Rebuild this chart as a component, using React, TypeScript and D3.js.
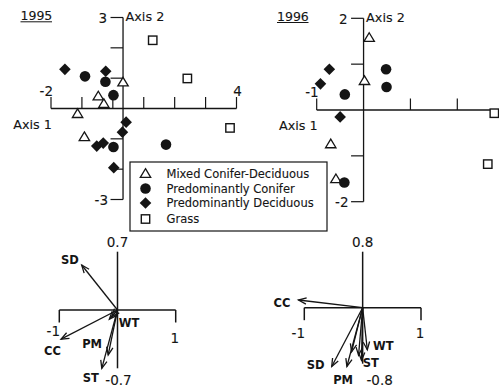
import React from 'react';
import * as d3 from 'd3';

// ---------- DATA ----------
const groups = ['Mixed Conifer-Deciduous', 'Predominantly Conifer', 'Predominantly Deciduous', 'Grass'];
const groupSymbols = ['triangle', 'circle', 'diamond', 'square'];

// 1995 site scores (Axis 1, Axis 2)
const mixed95X = [0.33, -0.47, -0.29, -1.14, -0.92];
const mixed95Y = [0.87, 0.41, 0.16, -0.17, -0.93];
const conifer95X = [-0.9, -0.24, 0.02, 0.02, 1.72];
const conifer95Y = [1.06, 0.88, 0.44, -1.27, -1.19];
const decid95X = [-1.55, -0.23, 0.43, 0.31, -0.52, -0.31, 0.03];
const decid95Y = [1.29, 1.23, -0.45, -0.78, -1.24, -1.14, -1.95];
const grass95X = [1.29, 2.41, 3.79];
const grass95Y = [2.25, 0.99, -0.64];

// 1996 site scores
const mixed96X = [0.12, 0.02, -0.7, -0.59];
const mixed96Y = [1.58, 0.64, -0.74, -1.5];
const conifer96X = [0.48, 0.49, -0.4, -0.41];
const conifer96Y = [0.89, 0.5, 0.34, -1.58];
const decid96X = [-0.73, -0.92, -0.5];
const decid96Y = [0.89, 0.57, -0.15];
const grass96X = [2.79, 2.65];
const grass96Y = [-0.07, -1.18];

// axis ticks
const xTicks95 = [-2, -1, 0, 1, 2, 3, 4];
const yTicks95 = [3, 2, 1, -1, -2, -3];
const xTicks96 = [-1, 1, 2];
const yTicks96 = [2, 1, -1, -2];

// biplot loadings
const vars95 = ['SD', 'CC', 'PM', 'ST', 'WT', ''];
const load95X = [-0.615, -0.97, -0.16, -0.27, -0.14, -0.1];
const load95Y = [0.54, -0.35, -0.54, -0.7, -0.11, -0.08];
const vars96 = ['CC', 'SD', 'PM', 'ST', 'WT', '', ''];
const load96X = [-1.1, -0.53, -0.27, -0.02, 0.08, -0.19, -0.07];
const load96Y = [0.11, -0.84, -0.84, -0.75, -0.6, -0.63, -0.68];

// ---------- STYLE / LAYOUT ----------
const FONT = "'DejaVu Sans', 'Liberation Sans', Arial, sans-serif";
const INK = '#151515';
const TXT = { fontFamily: FONT, fill: INK, stroke: INK, strokeWidth: 0.12 } as const;

const label95Offsets: Record<string, [number, number]> = {
  SD: [-20.7, -1.5], CC: [-17, 16], PM: [-26, -7], ST: [-19, 14], WT: [9.5, 8],
};
const label96Offsets: Record<string, [number, number]> = {
  CC: [-25, 6.5], SD: [-25, 2.5], PM: [-13.7, 17], ST: [1.3, 6.5], WT: [5.7, 0.5],
};

function Marker({ kind, x, y }: { kind: string; x: number; y: number }) {
  if (kind === 'circle') return <circle cx={x} cy={y} r={5.3} fill={INK} />;
  if (kind === 'diamond') {
    const r = 5.8;
    return <path d={`M${x},${y - r}L${x + r},${y}L${x},${y + r}L${x - r},${y}Z`} fill={INK} />;
  }
  if (kind === 'square') {
    const s = 4.2;
    return <rect x={x - s} y={y - s} width={2 * s} height={2 * s} fill="white" stroke={INK} strokeWidth={1.4} />;
  }
  const h = 4.8;
  return (
    <path
      d={`M${x},${y - h}L${x + 5.2},${y + h * 0.8}L${x - 5.2},${y + h * 0.8}Z`}
      fill="white"
      stroke={INK}
      strokeWidth={1.3}
      strokeLinejoin="miter"
    />
  );
}

type Series = { xs: number[]; ys: number[] };

function ScatterPanel(props: {
  title: string;
  titleX: number;
  titleY: number;
  x: d3.ScaleLinear<number, number>;
  y: d3.ScaleLinear<number, number>;
  xMin: number;
  xMax: number;
  yMin: number;
  yMax: number;
  vAxisAt: number;
  xTicks: number[];
  yTicks: number[];
  xLeftLabel: string;
  xRightLabel?: string;
  yTopLabel: string;
  yBottomLabel: string;
  series: Series[];
}) {
  const { x, y } = props;
  const ax = x(props.vAxisAt);
  const ay = y(0);
  const tickLen = 11.5;
  const titleW = props.title.length * 8;
  return (
    <g>
      <text x={props.titleX} y={props.titleY} fontSize={12.5} {...TXT}>
        {props.title}
      </text>
      <line x1={props.titleX} x2={props.titleX + titleW - 0.5} y1={props.titleY + 1.8} y2={props.titleY + 1.8} stroke={INK} strokeWidth={1} />
      {/* horizontal axis */}
      <line x1={x(props.xMin)} x2={x(props.xMax)} y1={ay} y2={ay} stroke={INK} strokeWidth={1.3} />
      {props.xTicks.map((t) => (
        <line key={'xt' + t} x1={x(t)} x2={x(t)} y1={ay} y2={ay - tickLen} stroke={INK} strokeWidth={1.2} />
      ))}
      {/* vertical axis */}
      <line x1={ax} x2={ax} y1={y(props.yMax)} y2={y(props.yMin)} stroke={INK} strokeWidth={1.3} />
      {props.yTicks.map((t) => (
        <line key={'yt' + t} x1={ax - tickLen - 1} x2={ax} y1={y(t)} y2={y(t)} stroke={INK} strokeWidth={1.2} />
      ))}
      <text x={ax - 16} y={y(props.yMax) + 5.5} textAnchor="end" fontSize={13.5} {...TXT}>
        {props.yTopLabel}
      </text>
      <text x={ax + 2.5} y={y(props.yMax) + 3.5} fontSize={12.8} {...TXT}>
        Axis 2
      </text>
      <text x={ax - 15} y={y(props.yMin) + 5} textAnchor="end" fontSize={13.5} {...TXT}>
        {props.yBottomLabel}
      </text>
      <text x={x(props.xMin) + 2} y={ay - 13} textAnchor="end" fontSize={13.5} {...TXT}>
        {props.xLeftLabel}
      </text>
      {props.xRightLabel && (
        <text x={x(props.xMax) + 1} y={ay - 13} textAnchor="middle" fontSize={13.5} {...TXT}>
          {props.xRightLabel}
        </text>
      )}
      <text x={x(props.xMin) + 1} y={ay + 20} textAnchor="end" fontSize={12.8} {...TXT}>
        Axis 1
      </text>
      {props.series.map((s, gi) =>
        s.xs.map((v, i) => <Marker key={gi + '-' + i} kind={groupSymbols[gi]} x={x(v)} y={y(s.ys[i])} />)
      )}
    </g>
  );
}

function Biplot(props: {
  x: d3.ScaleLinear<number, number>;
  y: d3.ScaleLinear<number, number>;
  yLim: number;
  topLabel: string;
  bottomLabel: string;
  bottomDx: number;
  bottomDy: number;
  names: string[];
  lx: number[];
  ly: number[];
  offsets: Record<string, [number, number]>;
  endLabelDy: [number, number];
}) {
  const { x, y } = props;
  const ox = x(0);
  const oy = y(0);
  const head = 8.5;
  const ang = (22 * Math.PI) / 180;
  return (
    <g>
      <line x1={x(-1)} x2={x(1)} y1={oy} y2={oy} stroke={INK} strokeWidth={1.6} />
      <line x1={x(-1)} x2={x(-1)} y1={oy} y2={oy + 12.5} stroke={INK} strokeWidth={1.5} />
      <line x1={x(1)} x2={x(1)} y1={oy} y2={oy + 12.5} stroke={INK} strokeWidth={1.5} />
      <line x1={ox} x2={ox} y1={y(props.yLim)} y2={y(-props.yLim)} stroke={INK} strokeWidth={1.5} />
      <text x={ox} y={y(props.yLim) - 5} textAnchor="middle" fontSize={13.5} {...TXT}>
        {props.topLabel}
      </text>
      <text x={ox + props.bottomDx} y={y(-props.yLim) + props.bottomDy} textAnchor="middle" fontSize={13.5} {...TXT}>
        {props.bottomLabel}
      </text>
      <text x={x(-1) - 6} y={oy + props.endLabelDy[0]} textAnchor="middle" fontSize={13.5} {...TXT}>
        -1
      </text>
      <text x={x(1) - 1} y={oy + props.endLabelDy[1]} textAnchor="middle" fontSize={13.5} {...TXT}>
        1
      </text>
      {props.names.map((n, i) => {
        const tx = x(props.lx[i]);
        const ty = y(props.ly[i]);
        const a = Math.atan2(oy - ty, ox - tx);
        const b1 = [tx + head * Math.cos(a + ang), ty + head * Math.sin(a + ang)];
        const b2 = [tx + head * Math.cos(a - ang), ty + head * Math.sin(a - ang)];
        const off = props.offsets[n];
        return (
          <g key={'v' + i}>
            <line x1={ox} y1={oy} x2={tx} y2={ty} stroke={INK} strokeWidth={1.3} />
            <path d={`M${b1[0]},${b1[1]}L${tx},${ty}L${b2[0]},${b2[1]}`} fill="none" stroke={INK} strokeWidth={1.3} />
            {n && off && (
              <text x={tx + off[0]} y={ty + off[1]} fontFamily={FONT} fontSize={11.5} fontWeight="bold" fill={INK}>
                {n}
              </text>
            )}
          </g>
        );
      })}
    </g>
  );
}

export default function App() {
  const x95 = d3.scaleLinear().domain([-2, 4]).range([51, 236.5]);
  const y95 = d3.scaleLinear().domain([-3, 3]).range([199.5, 17.5]);
  const x96 = d3.scaleLinear().domain([-1, 2]).range([316.7, 457.3]);
  const y96 = d3.scaleLinear().domain([-2, 2]).range([201.7, 18.3]);

  const bx95 = d3.scaleLinear().domain([-1, 1]).range([59.3, 175.7]);
  const by95 = d3.scaleLinear().domain([-0.7, 0.7]).range([368.3, 251.7]);
  const bx96 = d3.scaleLinear().domain([-1, 1]).range([304.3, 421]);
  const by96 = d3.scaleLinear().domain([-0.8, 0.8]).range([363.7, 251.7]);

  const series95: Series[] = [
    { xs: mixed95X, ys: mixed95Y },
    { xs: conifer95X, ys: conifer95Y },
    { xs: decid95X, ys: decid95Y },
    { xs: grass95X, ys: grass95Y },
  ];
  const series96: Series[] = [
    { xs: mixed96X, ys: mixed96Y },
    { xs: conifer96X, ys: conifer96Y },
    { xs: decid96X, ys: decid96Y },
    { xs: grass96X, ys: grass96Y },
  ];

  const legendX = 130;
  const legendY = 162;
  const rowY = [173.5, 188.5, 203, 219];

  return (
    <svg width={499} height={391} style={{ position: 'absolute', left: 0, top: 0, background: 'white' }}>
      <rect width={499} height={391} fill="white" />
      <ScatterPanel
        title="1995" titleX={20.5} titleY={20}
        x={x95} y={y95} xMin={-2} xMax={4} yMin={-3} yMax={3} vAxisAt={0.33}
        xTicks={xTicks95} yTicks={yTicks95}
        xLeftLabel="-2" xRightLabel="4" yTopLabel="3" yBottomLabel="-3"
        series={series95}
      />
      <ScatterPanel
        title="1996" titleX={277} titleY={20.7}
        x={x96} y={y96} xMin={-1} xMax={2.95} yMin={-2} yMax={2} vAxisAt={0}
        xTicks={xTicks96} yTicks={yTicks96}
        xLeftLabel="-1" yTopLabel="2" yBottomLabel="-2"
        series={series96}
      />
      {/* legend */}
      <rect x={legendX} y={legendY} width={197} height={69} fill="white" stroke={INK} strokeWidth={1.2} />
      {groups.map((g, i) => (
        <g key={g}>
          <Marker kind={groupSymbols[i]} x={145.5} y={rowY[i]} />
          <text x={166.5} y={rowY[i] + 4.2} fontSize={11.5} {...TXT}>
            {g}
          </text>
        </g>
      ))}
      <Biplot
        x={bx95} y={by95} yLim={0.7} topLabel="0.7" bottomLabel="-0.7" bottomDx={1} bottomDy={17}
        names={vars95} lx={load95X} ly={load95Y} offsets={label95Offsets} endLabelDy={[26, 33]}
      />
      <Biplot
        x={bx96} y={by96} yLim={0.8} topLabel="0.8" bottomLabel="-0.8" bottomDx={17} bottomDy={21}
        names={vars96} lx={load96X} ly={load96Y} offsets={label96Offsets} endLabelDy={[30.5, 30.5]}
      />
    </svg>
  );
}
